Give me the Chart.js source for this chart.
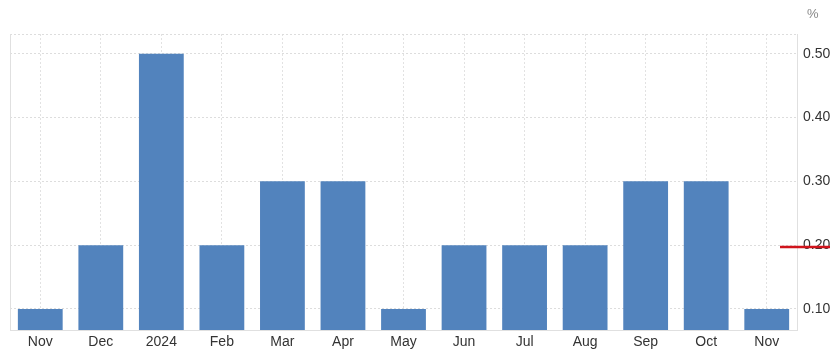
<!DOCTYPE html>
<html>
<head>
<meta charset="utf-8">
<script src="https://cdn.jsdelivr.net/npm/chart.js@4.4.0/dist/chart.umd.min.js"></script>
<style>
  html, body { margin: 0; padding: 0; background: #fff; }
  #wrap { width: 836px; height: 354px; }
</style>
</head>
<body>
<div id="wrap"><canvas id="myChart"></canvas></div>
<script>
// monthly values, %
const months = ['Nov', 'Dec', '2024', 'Feb', 'Mar', 'Apr', 'May', 'Jun', 'Jul', 'Aug', 'Sep', 'Oct', 'Nov'];
const values = [0.1, 0.2, 0.5, 0.2, 0.3, 0.3, 0.1, 0.2, 0.2, 0.2, 0.3, 0.3, 0.1];
const y_ticks = [0.1, 0.2, 0.3, 0.4, 0.5];
const marker_value = 0.2;
const unit_label = '%';

const y_min = 0.067;
const y_max = 0.531;

const extras = {
    id: 'extras',
    afterDraw(chart) {
        const ctx = chart.ctx;
        const area = chart.chartArea;
        const y = chart.scales.y;
        ctx.save();
        // left border
        ctx.strokeStyle = '#e0e0e0';
        ctx.lineWidth = 1;
        ctx.beginPath();
        ctx.moveTo(area.left + 0.5, area.top);
        ctx.lineTo(area.left + 0.5, area.bottom);
        ctx.stroke();
        // red marker on the axis
        const py = Math.round(y.getPixelForValue(marker_value)) + 2;
        ctx.strokeStyle = '#d0141c';
        ctx.lineWidth = 2.5;
        ctx.beginPath();
        ctx.moveTo(area.right - 17, py);
        ctx.lineTo(area.right + 33, py);
        ctx.stroke();
        // unit
        ctx.fillStyle = '#888';
        ctx.font = '13px "Liberation Sans", Arial, sans-serif';
        ctx.textAlign = 'left';
        ctx.textBaseline = 'middle';
        ctx.fillText(unit_label, area.right + 10, 14);
        ctx.restore();
    }
};

Chart.defaults.font.family = '"Liberation Sans", Arial, sans-serif';
Chart.defaults.color = '#333';

const ctx = document.getElementById('myChart').getContext('2d');
const myChart = new Chart(ctx, {
    type: 'bar',
    data: {
        labels: months,
        datasets: [{
            data: values,
            backgroundColor: '#5283bd',
            barPercentage: 0.74,
            categoryPercentage: 1.0
        }]
    },
    options: {
        responsive: true,
        maintainAspectRatio: false,
        animation: false,
        layout: { padding: { top: 34, left: 10, right: 0, bottom: 0 } },
        plugins: {
            legend: { display: false },
            tooltip: { enabled: false }
        },
        scales: {
            x: {
                grid: {
                    offset: false,
                    color: '#e2e2e2',
                    tickLength: 0
                },
                border: { color: '#e0e0e0', dash: [2, 2] },
                ticks: {
                    font: { size: 14 },
                    color: '#333',
                    padding: 4,
                    maxRotation: 0,
                    autoSkip: false
                },
                afterFit(scale) { scale.height = 24; }
            },
            y: {
                position: 'right',
                min: y_min,
                max: y_max,
                afterBuildTicks(scale) {
                    scale.ticks = y_ticks.concat([y_max]).map(v => ({ value: v }));
                },
                grid: {
                    color: '#dddddd',
                    tickLength: 0
                },
                border: { color: '#e0e0e0', dash: [2, 2] },
                ticks: {
                    font: { size: 14 },
                    color: '#333',
                    padding: 6,
                    callback: (v) => (y_ticks.includes(v) ? v.toFixed(2) : '')
                },
                afterFit(scale) { scale.width = 39; }
            }
        }
    },
    plugins: [extras]
});
</script>
</body>
</html>
